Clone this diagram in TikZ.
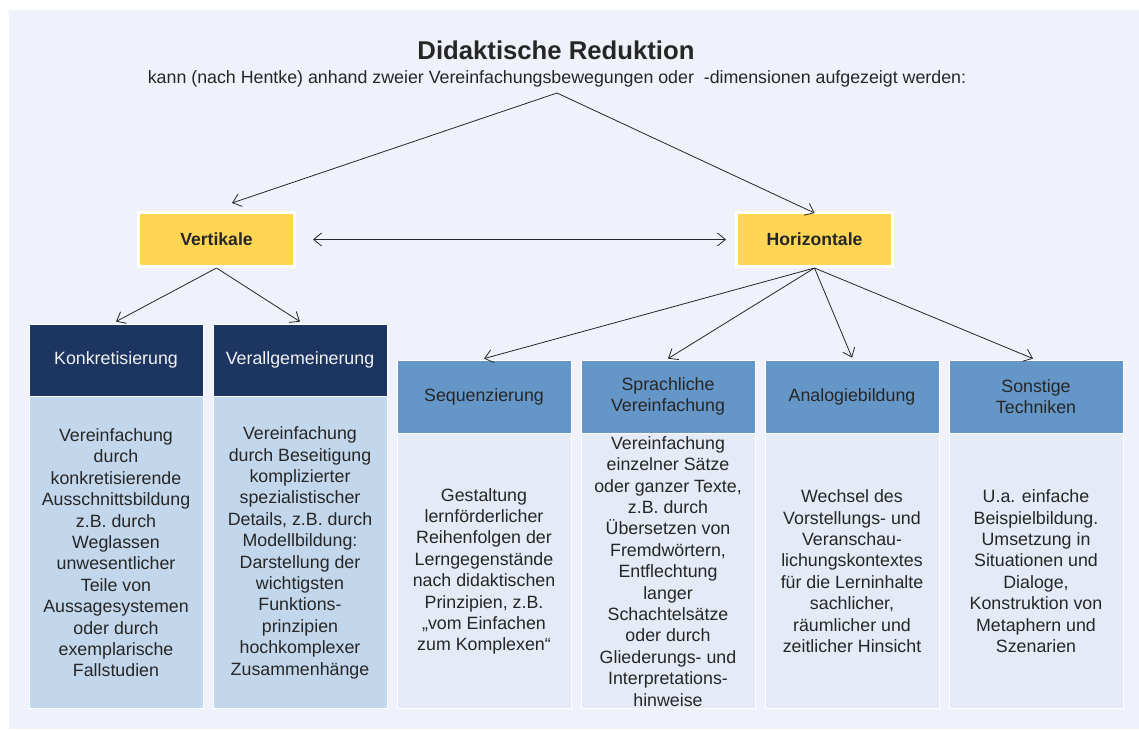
\documentclass[tikz,border=0pt]{standalone}
\usepackage{fontspec}
\setmainfont{Liberation Sans}
\usetikzlibrary{arrows.meta}
\definecolor{panel}{HTML}{EFF2FA}
\definecolor{ink}{HTML}{262626}
\definecolor{gold}{HTML}{FFD554}
\definecolor{navy}{HTML}{1D3561}
\definecolor{navybody}{HTML}{C3D7EC}
\definecolor{steel}{HTML}{6596C8}
\definecolor{steelbody}{HTML}{E4EBF6}
\begin{document}
\begin{tikzpicture}[x=1pt,y=-1pt,
  font=\fontsize{17.8}{21.4}\selectfont, text=ink,
  arr/.style={draw=black!85, line width=0.8pt, -{Straight Barb[length=8pt,width=13pt]}},
  arrboth/.style={draw=black!85, line width=0.8pt, {Straight Barb[length=8pt,width=13pt]}-{Straight Barb[length=8pt,width=13pt]}},
  goldbox/.style={rectangle, fill=gold, draw=white, line width=3pt, minimum width=156pt, minimum height=54pt, font=\fontsize{17.6}{21.4}\selectfont\bfseries},
  cell/.style={rectangle, draw=white, line width=0.8pt, minimum width=174pt, align=center, inner sep=2pt},
  navyhead/.style={cell, fill=navy, text=white!95!black, minimum height=72pt},
  navytext/.style={cell, fill=navybody, minimum height=312pt, anchor=north},
  steelhead/.style={cell, fill=steel, minimum height=73pt},
  steeltext/.style={cell, fill=steelbody, minimum height=275pt, anchor=north}]

\useasboundingbox (0,0) rectangle (1139,729);
\fill[panel] (9,10) rectangle (1139,729);

% heading
\node[anchor=base, font=\fontsize{25.7}{30}\selectfont\bfseries] (title) at (556,59) {Didaktische Reduktion};
\node[anchor=base] (sub) at (557,83) {kann (nach Hentke) anhand zweier Vereinfachungsbewegungen oder\ \ -dimensionen aufgezeigt werden:};
\coordinate (apex) at (557,93);

% the two dimensions
\node[goldbox] (vert) at (216.5,239.5) {Vertikale};
\node[goldbox] (horiz) at (814.5,239.5) {Horizontale};

% vertical branch
\node[navyhead] (konk) at (116,360) {Konkretisierung};
\node[navytext] (konkb) at (konk.south) {Vereinfachung\\durch\\konkretisierende\\Ausschnittsbildung\\z.B. durch\\Weglassen\\unwesentlicher\\Teile von\\Aussagesystemen\\oder durch\\exemplarische\\Fallstudien};
\node[navyhead] (verall) at (300,360) {Verallgemeinerung};
\node[navytext] (verallb) at (verall.south) {Vereinfachung\\durch Beseitigung\\komplizierter\\spezialistischer\\Details, z.B. durch\\Modellbildung:\\Darstellung der\\wichtigsten\\Funktions-\\prinzipien\\hochkomplexer\\Zusammenhänge};

% horizontal branch
\node[steelhead] (seq) at (484,396.5) {Sequenzierung};
\node[steeltext] (seqb) at (seq.south) {Gestaltung\\lernförderlicher\\Reihenfolgen der\\Lerngegenstände\\nach didaktischen\\Prinzipien, z.B.\\„vom Einfachen\\zum Komplexen“};
\node[steelhead] (spr) at (668,396.5) {Sprachliche\\Vereinfachung};
\node[steeltext] (sprb) at (spr.south) {Vereinfachung\\einzelner Sätze\\oder ganzer Texte,\\z.B. durch\\Übersetzen von\\Fremdwörtern,\\Entflechtung\\langer\\Schachtelsätze\\oder durch\\Gliederungs- und\\Interpretations-\\hinweise};
\node[steelhead] (ana) at (852,396.5) {Analogiebildung};
\node[steeltext] (anab) at (ana.south) {Wechsel des\\Vorstellungs- und\\Veranschau-\\lichungskontextes\\für die Lerninhalte\\sachlicher,\\räumlicher und\\zeitlicher Hinsicht};
\node[steelhead] (son) at (1036,396.5) {Sonstige\\Techniken};
\node[steeltext] (sonb) at (son.south) {U.a. einfache\\Beispielbildung.\\Umsetzung in\\Situationen und\\Dialoge,\\Konstruktion von\\Metaphern und\\Szenarien};

% connectors
\draw[arr] (apex) -- ([xshift=15.5pt,yshift=8pt]vert.north);
\draw[arr] (apex) -- ([yshift=-2pt]horiz.north);
\draw[arrboth] ([xshift=17pt]vert.east) -- ([xshift=-9pt]horiz.west);
\draw[arr] (vert.south) -- ([yshift=2pt]konk.north);
\draw[arr] (vert.south) -- ([yshift=2pt]verall.north);
\draw[arr] (horiz.south) -- ([yshift=1pt]seq.north);
\draw[arr] (horiz.south) -- ([yshift=1pt]spr.north);
\draw[arr] (horiz.south) -- ([yshift=2pt]ana.north);
\draw[arr] (horiz.south) -- ([xshift=-3pt,yshift=1pt]son.north);
\end{tikzpicture}
\end{document}
